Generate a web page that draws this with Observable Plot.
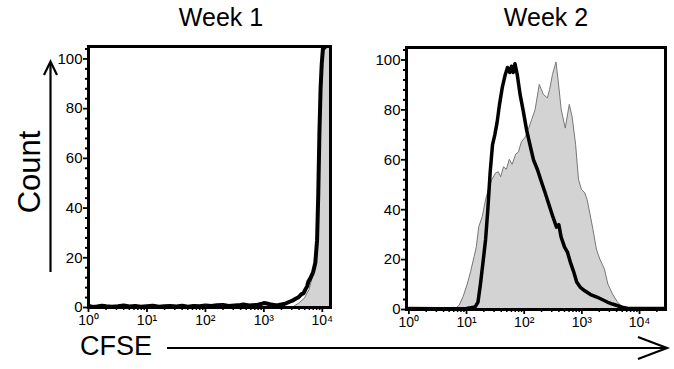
<!DOCTYPE html>
<html><head><meta charset="utf-8">
<script src="https://cdn.jsdelivr.net/npm/d3@7"></script>
<script src="https://cdn.jsdelivr.net/npm/@observablehq/plot@0.6"></script>
<style>
body{margin:0;background:#fff;font-family:"Liberation Sans",Arial,sans-serif;}
#root{position:relative;width:674px;height:369px;overflow:hidden;background:#fff;}
.abs{position:absolute;}
.title{font-size:25px;color:#000;white-space:nowrap;transform:translateX(-50%);}
</style></head><body><div id="root"></div>
<script>
// ---- labels ----
const panelTitles = ["Week 1", "Week 2"];
const yLabel = "Count";
const xLabel = "CFSE";
const yTicks = [0, 20, 40, 60, 80, 100];
const xTicks = [1, 10, 100, 1000, 10000];
const xTickLabels = ["10⁰", "10¹", "10²", "10³", "10⁴"];

// ---- Week 1 (CFSE intensity, count) ----
const w1FillX = [3162, 3981, 5012, 6026, 7079, 7943, 8710, 9333, 10000, 10471, 12589, 13800];
const w1FillY = [0, 1.5, 3.5, 7, 13, 22, 45, 75, 95, 104, 106, 106];
const w1LineX = [1, 1.2, 1.4, 1.7, 2, 2.5, 3.2, 4, 5, 6.3, 7.9, 10, 12.6, 16, 20, 25, 32, 40, 50, 63, 79, 100, 126, 158, 200, 251, 316, 398, 447, 562, 631, 794, 891, 1000, 1122, 1259, 1413, 1585, 1778, 2000, 2239, 2512, 2818, 3162, 3548, 3850, 4169, 4500, 4786, 5200, 5495, 5800, 6166, 6918, 7586, 8128, 8511, 8913, 9333, 9772, 10233, 12589];
const w1LineY = [0.6, 0.2, 0.4, 0.7, 0.5, 0.3, 0.5, 0.8, 0.4, 0.6, 0.3, 0.5, 0.7, 0.3, 0.5, 0.6, 0.4, 0.7, 0.3, 0.6, 0.5, 0.8, 0.6, 0.9, 1.0, 0.6, 0.8, 1.0, 1.2, 0.8, 0.9, 1.1, 1.4, 1.8, 1.6, 1.3, 1.1, 0.9, 1.0, 1.2, 1.4, 1.9, 2.4, 2.9, 3.6, 4.0, 4.8, 5.5, 5.8, 7.5, 8.5, 10.5, 11.5, 14, 18, 27, 45, 70, 88, 98, 104, 106];

// ---- Week 2 ----
const w2FillX = [1, 6.3, 7.6, 8.9, 10.5, 12.0, 13.8, 15.1, 16.6, 19.1, 21.9, 25.1, 28.2, 32.4, 36.3, 39.8, 44.7, 50.1, 56.2, 63.1, 72.4, 81.3, 91.2, 107, 120, 138, 158, 186, 219, 257, 282, 316, 363, 398, 447, 525, 617, 692, 794, 891, 1000, 1148, 1259, 1413, 1585, 1820, 2089, 2512, 2884, 3467, 4169, 5012, 6026, 28184];
const w2FillY = [0, 0, 1.5, 5, 10, 15, 21, 25, 33, 37, 44, 49, 52, 54.5, 55, 53, 57, 56, 60, 58, 62, 63, 67, 69, 72, 76, 80, 90, 86, 84.6, 88, 94, 99, 91, 80, 72.5, 82, 77, 66, 52, 48, 46.5, 43.8, 38, 32, 24, 20, 16, 10, 6, 3, 1, 0, 0];
const w2LineX = [1, 3.2, 10, 14.1, 15.8, 17.4, 19.1, 21.4, 23.4, 25.7, 28.2, 30.9, 33.9, 37.2, 41.7, 46.8, 51.3, 56.2, 60.3, 64.6, 69.2, 75.9, 85.1, 95.5, 110, 126, 145, 170, 200, 229, 269, 316, 363, 398, 437, 501, 562, 631, 724, 813, 933, 1122, 1413, 1820, 2239, 2754, 3388, 4074, 5012, 6310, 28184];
const w2LineY = [0.4, 0.3, 0.4, 1, 3, 10, 18, 28, 40, 55, 66, 70, 75, 82, 89, 94, 97, 95, 97.5, 95, 98.5, 94, 86, 80, 72, 66, 60, 56, 51, 47, 42, 37, 33, 34, 29, 25, 23, 19, 15, 11, 9, 7.5, 6, 5, 4, 3, 2.2, 1.6, 0.9, 0.4, 0.4];

const zip = (xs, ys) => xs.map((x, i) => ({x, y: ys[i]}));

const yMinor = [];
for (let v = 0; v <= 104; v += 4) if (v % 20 !== 0) yMinor.push(v);

function minorX(domain) {
  const out = [];
  for (let p = 0.1; p <= 100000; p *= 10)
    for (let k = 2; k <= 9; k++) {
      const v = Math.round(p * k * 1000) / 1000;
      if (v >= domain[0] && v <= domain[1]) out.push(v);
    }
  return out;
}

function panel({width, marginLeft, marginRight, marginTop, marginBottom, xDomain, fill, line, lineWidth}) {
  const svg = Plot.plot({
    width, height: 340, marginLeft, marginRight, marginTop, marginBottom,
    x: {type: "log", domain: xDomain},
    y: {domain: [0, 105]},
    style: {fontFamily: "'Liberation Sans', Arial, sans-serif", fontSize: "14px", color: "#000", background: "transparent", overflow: "visible"},
    marks: [
      Plot.areaY(fill, {x: "x", y: "y", fill: "#d3d3d3", stroke: "#777", strokeWidth: 1, clip: true}),
      Plot.line(line, {x: "x", y: "y", stroke: "#000", strokeWidth: lineWidth, clip: true}),
      Plot.frame({stroke: "#000", strokeWidth: 3}),
      Plot.axisY(yTicks, {tickSize: 5, tickPadding: 1, fontSize: 15, strokeWidth: 1.8, label: null, fill: "#000"}),
      Plot.axisY(yMinor, {tickSize: 3, tickFormat: () => "", strokeWidth: 2, label: null}),
      Plot.axisX(xTicks.filter(t => t >= xDomain[0] && t <= xDomain[1]), {tickSize: 5, tickPadding: 3, fontSize: 14, strokeWidth: 1.8, label: null, fill: "#000",
        tickFormat: d => xTickLabels[xTicks.indexOf(d)]}),
      Plot.axisX(minorX(xDomain), {tickSize: 3, tickFormat: () => "", strokeWidth: 1.5, label: null})
    ]
  });
  const yl = yTicks.map(String);
  svg.querySelectorAll("text").forEach(t => {
    const s = t.textContent;
    if (yl.includes(s)) { t.setAttribute("font-size", "15"); t.style.fontSize = "15px"; }
    else if (xTickLabels.includes(s)) { t.setAttribute("font-size", "14"); t.style.fontSize = "14px"; }
  });
  return svg;
}

const root = document.getElementById("root");

const p1 = panel({width: 340, marginLeft: 88, marginRight: 10, marginTop: 46, marginBottom: 33,
  xDomain: [1, 13800], fill: zip(w1FillX, w1FillY), line: zip(w1LineX, w1LineY), lineWidth: 4});
p1.classList.add("abs"); p1.style.left = "0px"; p1.style.top = "0px";
root.appendChild(p1);

const p2 = panel({width: 334, marginLeft: 66, marginRight: 9, marginTop: 47, marginBottom: 31,
  xDomain: [0.91, 28200], fill: zip(w2FillX, w2FillY), line: zip(w2LineX, w2LineY), lineWidth: 3.5});
p2.classList.add("abs"); p2.style.left = "340px"; p2.style.top = "0px";
root.appendChild(p2);

// titles
[[221, panelTitles[0]], [546, panelTitles[1]]].forEach(([cx, t]) => {
  const d = document.createElement("div");
  d.className = "abs title"; d.textContent = t;
  d.style.left = cx + "px"; d.style.top = "3px";
  root.appendChild(d);
});

// Count label
const c = document.createElement("div");
c.className = "abs"; c.textContent = yLabel;
c.style.cssText += "font-size:31px;white-space:nowrap;left:30px;top:172px;transform:translate(-50%,-50%) rotate(-90deg);";
root.appendChild(c);

// CFSE label
const f = document.createElement("div");
f.className = "abs"; f.textContent = xLabel;
f.style.cssText += "font-size:27px;white-space:nowrap;left:80px;top:331px;";
root.appendChild(f);

// arrows
const ns = "http://www.w3.org/2000/svg";
const ov = document.createElementNS(ns, "svg");
ov.setAttribute("width", 674); ov.setAttribute("height", 369);
ov.setAttribute("class", "abs"); ov.style.left = "0px"; ov.style.top = "0px";
ov.innerHTML = `
<g fill="none" stroke="#000" stroke-width="2.2">
<line x1="50.5" y1="272" x2="50.5" y2="62"/>
<polyline points="44,75 50.5,61.5 57,75"/>
<line x1="167" y1="348" x2="665" y2="348"/>
<polyline points="638,337 667,348 638,359"/>
</g>`;
root.appendChild(ov);
</script>
</body></html>
